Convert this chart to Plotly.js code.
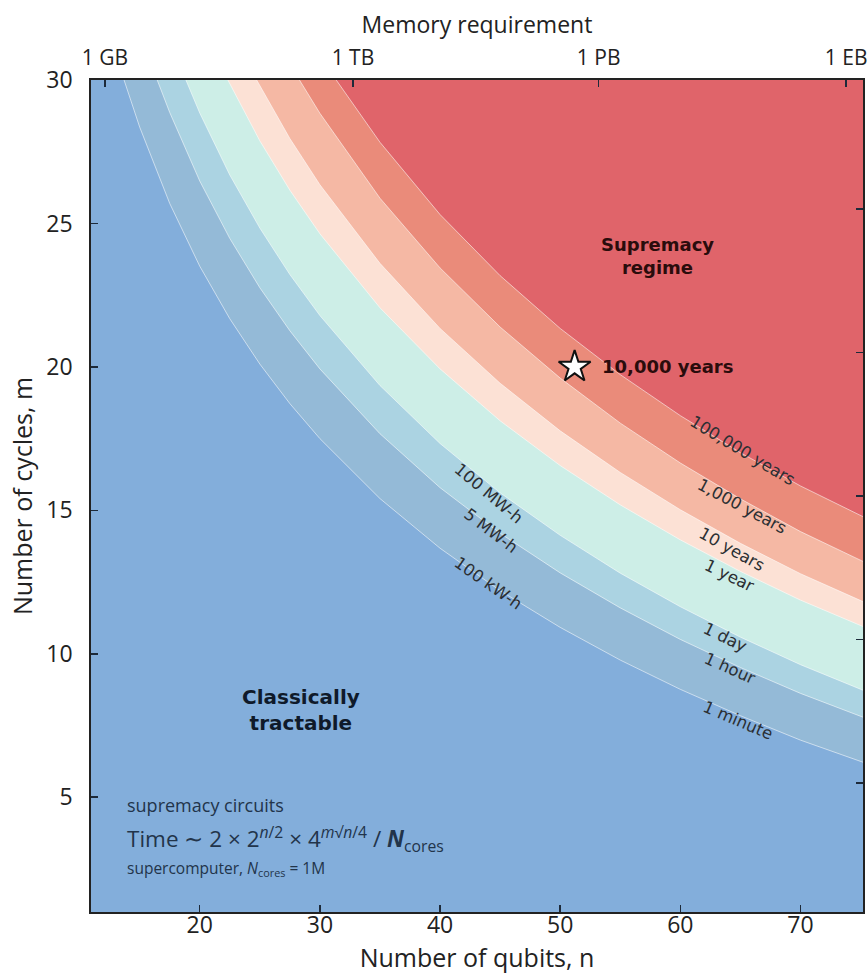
<!DOCTYPE html>
<html><head><meta charset="utf-8">
<script src="https://cdn.plot.ly/plotly-3.0.1.min.js"></script>
<style>html,body{margin:0;padding:0;background:#fff}#chart{width:868px;height:976px}</style>
</head><body><div id="chart"></div>
<script>
// ---- data ----
// contour boundaries (n = qubits, m = cycles), lowest to highest
const contourNames = ['1 minute', '1 hour', '1 day', '1 year', '10 years', '1,000 years', '100,000 years'];
const energyNames = ['100 kW-h', '5 MW-h', '100 MW-h'];

const n_1min = [13.7, 15, 17.5, 20, 22.5, 25, 27.5, 30, 35, 40, 45, 50, 55, 60, 65, 70, 75.2];
const m_1min = [30, 28.36, 25.70, 23.51, 21.68, 20.10, 18.72, 17.50, 15.41, 13.68, 12.20, 10.92, 9.78, 8.76, 7.84, 6.99, 6.22];

const n_1hour = [16.46, 17.5, 20, 22.5, 25, 27.5, 30, 35, 40, 45, 50, 55, 60, 65, 70, 75.2];
const m_1hour = [30, 28.87, 26.48, 24.48, 22.76, 21.26, 19.93, 17.67, 15.79, 14.20, 12.82, 11.60, 10.50, 9.52, 8.62, 7.79];

const n_1day = [18.85, 20, 22.5, 25, 27.5, 30, 35, 40, 45, 50, 55, 60, 65, 70, 75.2];
const m_1day = [30, 28.85, 26.69, 24.84, 23.22, 21.79, 19.35, 17.33, 15.61, 14.13, 12.81, 11.64, 10.58, 9.62, 8.73];

const n_1yr = [22.34, 25, 27.5, 30, 35, 40, 45, 50, 55, 60, 65, 70, 75.2];
const m_1yr = [30, 27.88, 26.16, 24.64, 22.06, 19.93, 18.12, 16.56, 15.19, 13.97, 12.87, 11.87, 10.95];

const n_10yr = [24.74, 27.5, 30, 35, 40, 45, 50, 55, 60, 65, 70, 75.2];
const m_10yr = [30, 27.96, 26.35, 23.61, 21.34, 19.43, 17.77, 16.32, 15.02, 13.85, 12.79, 11.82];

const n_1kyr = [28.3, 30, 35, 40, 45, 50, 55, 60, 65, 70, 75.2];
const m_1kyr = [30, 28.84, 25.88, 23.45, 21.39, 19.61, 18.04, 16.65, 15.40, 14.26, 13.22];

const n_100kyr = [31.36, 35, 40, 45, 50, 55, 60, 65, 70, 75.2];
const m_100kyr = [30, 27.83, 25.31, 23.18, 21.34, 19.73, 18.30, 17.01, 15.85, 14.78];

// star marker (Sycamore point)
const starN = [51.2];
const starM = [20];
const starLabel = '10,000 years';

// axis ticks
const xTicks = [20, 30, 40, 50, 60, 70];
const yTicks = [5, 10, 15, 20, 25, 30];
const memTickPos = [12.1, 32.75, 53.2, 73.8];
const memTickText = ['1 GB', '1 TB', '1 PB', '1 EB'];

// ---- styling ----
const xRange = [10.95, 75.2];
const yRange = [1, 30];
const baseColor = '#83aedb';
const bandColors = ['#94bad7', '#abd3e2', '#cdeee7', '#fce1d5', '#f5b8a4', '#ea8b7a', '#e0646a'];
const fam = 'Open Sans, Noto Sans, sans-serif';
const tickFont = {family: fam, size: 23, color: '#222'};
const topTickFont = {family: fam, size: 21, color: '#222'};
const titleFont = {family: fam, size: 25, color: '#222'};
const topTitleFont = {family: fam, size: 23, color: '#222'};
const lblFont = {family: 'DejaVu Sans, sans-serif', size: 16.5, color: '#2b2f33'};

const curvesN = [n_1min, n_1hour, n_1day, n_1yr, n_10yr, n_1kyr, n_100kyr];
const curvesM = [m_1min, m_1hour, m_1day, m_1yr, m_10yr, m_1kyr, m_100kyr];

const traces = [];
// filled regions above each boundary
curvesN.forEach((ns, i) => {
  traces.push({
    x: ns.concat([xRange[1]]),
    y: curvesM[i].concat([yRange[1]]),
    mode: 'lines', fill: 'toself', fillcolor: bandColors[i],
    line: {width: 0},
    hoverinfo: 'skip', showlegend: false
  });
});
// thin contour lines
curvesN.forEach((ns, i) => {
  traces.push({
    x: ns, y: curvesM[i], mode: 'lines',
    line: {width: 1, color: 'rgba(255,255,255,0.55)'},
    hoverinfo: 'skip', showlegend: false
  });
});
// star
traces.push({
  x: starN, y: starM, mode: 'markers',
  marker: {symbol: 'star', size: 24, color: '#ffffff', line: {color: '#111', width: 2}},
  hoverinfo: 'skip', showlegend: false
});
// dummy trace for the secondary axes
traces.push({x: [], y: [], xaxis: 'x2', yaxis: 'y2', mode: 'markers', showlegend: false, hoverinfo: 'skip'});

// label placement (n, m, angle) for contour labels
const timeLblPos = [[64.8, 7.68, 23], [64.15, 9.49, 24], [63.75, 10.57, 26], [64.06, 12.73, 26], [64.3, 13.64, 29], [65.14, 15.13, 28], [65.14, 17.08, 31]];
const energyLblPos = [[44.03, 12.45, 35], [44.2, 14.30, 37], [44.03, 15.58, 40]];

const annotations = [];
contourNames.forEach((t, i) => {
  const p = timeLblPos[i];
  annotations.push({x: p[0], y: p[1], xref: 'x', yref: 'y', text: t, showarrow: false,
    textangle: p[2], font: lblFont, xanchor: 'center', yanchor: 'middle'});
});
energyNames.forEach((t, i) => {
  const p = energyLblPos[i];
  annotations.push({x: p[0], y: p[1], xref: 'x', yref: 'y', text: t, showarrow: false,
    textangle: p[2], font: lblFont, xanchor: 'center', yanchor: 'middle'});
});
annotations.push({x: starN[0] + 2.1, y: starM[0], xref: 'x', yref: 'y', text: '<b>' + starLabel + '</b>',
  showarrow: false, xanchor: 'left', yanchor: 'middle', font: {family: 'DejaVu Sans, sans-serif', size: 18, color: '#2a0c0c'}});
annotations.push({x: 58.1, y: 23.87, xref: 'x', yref: 'y', text: '<b>Supremacy<br>regime</b>',
  showarrow: false, xanchor: 'center', yanchor: 'middle', font: {family: 'DejaVu Sans, sans-serif', size: 18, color: '#2a0c0c'}});
annotations.push({x: 28.45, y: 8.05, xref: 'x', yref: 'y', text: '<b>Classically<br>tractable</b>',
  showarrow: false, xanchor: 'center', yanchor: 'middle', font: {family: 'DejaVu Sans, sans-serif', size: 20, color: '#0f1a2a'}});
const noteFont = {family: fam, color: '#22344a'};
annotations.push({x: 13.8, y: 4.72, xref: 'x', yref: 'y', text: 'supremacy circuits', showarrow: false,
  xanchor: 'left', yanchor: 'middle', font: Object.assign({size: 18}, noteFont)});
annotations.push({x: 13.8, y: 3.55, xref: 'x', yref: 'y',
  text: 'Time ∼ 2 × 2<sup><i>n</i>/2</sup> × 4<sup><i>m</i>√<i>n</i>/4</sup> / <b><i>N</i></b><sub>cores</sub>',
  showarrow: false, xanchor: 'left', yanchor: 'middle', font: Object.assign({size: 22.5}, noteFont)});
annotations.push({x: 13.8, y: 2.5, xref: 'x', yref: 'y', text: 'supercomputer, <i>N</i><sub>cores</sub> = 1M', showarrow: false,
  xanchor: 'left', yanchor: 'middle', font: Object.assign({size: 15.5}, noteFont)});

const tickCommon = {ticks: 'inside', ticklen: 7, tickwidth: 1.5, tickcolor: '#1d2a3a', showgrid: false, zeroline: false};

const layout = {
  width: 868, height: 976,
  margin: {l: 91, r: 5, t: 80, b: 64, pad: 0},
  paper_bgcolor: '#ffffff', plot_bgcolor: baseColor,
  showlegend: false,
  xaxis: Object.assign({range: xRange, tickvals: xTicks, showline: true, mirror: true, linecolor: '#222', linewidth: 1.8,
    tickfont: tickFont, ticklabelstandoff: -8, title: {text: 'Number of qubits, n', font: titleFont, standoff: 0}}, tickCommon),
  xaxis2: Object.assign({range: xRange, overlaying: 'x', side: 'top', anchor: 'y', tickvals: memTickPos, ticktext: memTickText,
    showline: false, tickfont: topTickFont, ticklabelstandoff: 10, title: {text: 'Memory requirement', font: topTitleFont, standoff: 2}}, tickCommon),
  yaxis: Object.assign({range: yRange, tickvals: yTicks, showline: true, mirror: true, linecolor: '#222', linewidth: 1.8,
    tickfont: tickFont, ticklabelstandoff: 12, title: {text: 'Number of cycles, m', font: titleFont, standoff: 6}}, tickCommon),
  yaxis2: Object.assign({range: yRange, overlaying: 'y', side: 'right', anchor: 'x', tickvals: [5.5, 10.5, 15.5, 20.5, 25.5],
    showticklabels: false, showline: false}, tickCommon),
  annotations: annotations
};

Plotly.newPlot('chart', traces, layout, {staticPlot: true, displayModeBar: false});
</script>
</body></html>
